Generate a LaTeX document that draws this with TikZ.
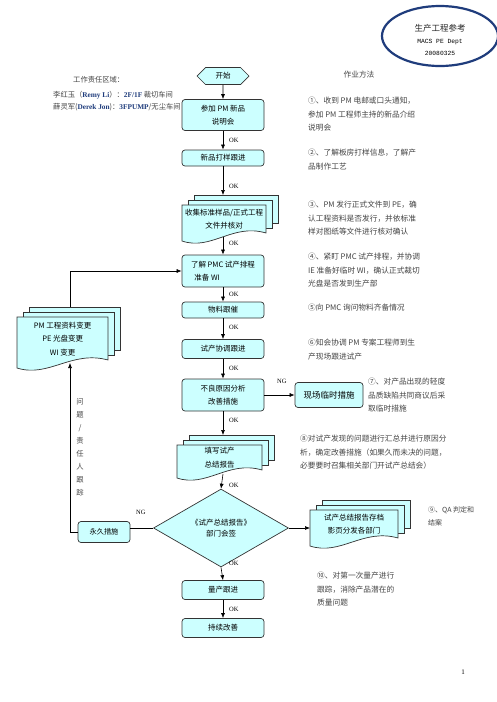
\documentclass[tikz,border=0pt]{standalone}
\usepackage{fontspec}
\setmainfont{Noto Sans CJK SC}
\newfontfamily\lserif{Liberation Serif}
\newfontfamily\lmono{Liberation Mono}
\usetikzlibrary{shapes.geometric,shapes.symbols,arrows.meta,calc}
\definecolor{boxfill}{HTML}{CCFFFF}
\definecolor{boxline}{HTML}{333333}
\definecolor{navy}{HTML}{1F3C7C}
\definecolor{notecol}{HTML}{444444}
\tikzset{
 flowbox/.style={draw=boxline, fill=boxfill, rounded corners=3pt, line width=0.7pt, minimum width=82pt, align=center, font=\fontsize{7.5}{13.5}\selectfont, inner sep=0pt},
 arr/.style={-{Latex[length=5pt,width=4pt]}, line width=0.6pt},
 plain/.style={line width=0.6pt},
 oklab/.style={font=\lserif\fontsize{6.5}{7}\selectfont, anchor=west, inner sep=0pt},
 notebox/.style={font=\fontsize{7.7}{13.5}\selectfont, text=notecol, anchor=north west, align=left, inner sep=0pt},
 pagebox/.style={draw=boxline, fill=boxfill, line width=0.7pt},
 doctext/.style={align=center, font=\fontsize{7.5}{13.5}\selectfont, inner sep=0pt, anchor=north west},
}
% #1 name, #2 left x, #3 top y, #4 width, #5 right-edge height, #6 text
\newcommand\docstack[6]{%
 \draw[pagebox] (#2+12,#3-10) rectangle (#2+#4+12,#3+#5-10);
 \draw[pagebox] (#2+6,#3-5) rectangle (#2+#4+6,#3+#5-5);
 \draw[pagebox] (#2,#3) -- (#2+#4,#3) -- (#2+#4,#3+#5) .. controls (#2+0.6*#4,#3+#5-10) and (#2+0.35*#4,#3+#5+18) .. (#2,#3+#5+8) -- cycle;
 \node[doctext, minimum width=#4 pt, minimum height=#5 pt] (#1) at (#2,#3) {#6};
 \coordinate (#1-top) at (#2+0.5*#4,#3-10);
 \coordinate (#1-bot) at (#2+0.5*#4,#3+#5+4);
}
\begin{document}
\begin{tikzpicture}[x=1pt,y=-1pt]
\useasboundingbox (0,0) rectangle (496,702);
\fill[white] (0,0) rectangle (496,702);

% stamp
\node[draw=navy, line width=2.2pt, ellipse, minimum width=116pt, minimum height=60pt] (stamp) at (440,36) {};
\node[font=\fontsize{8.5}{9}\selectfont, text=black!85, inner sep=0] (stampa) at (440,28) {生产工程参考};
\node[font=\lmono\fontsize{6.3}{7}\selectfont, inner sep=0] (stampb) at (440,42) {MACS PE Dept};
\node[font=\lmono\fontsize{6.3}{7}\selectfont, inner sep=0] (stampc) at (440,53) {20080325};

% responsibility text
\node[font=\fontsize{7.3}{8}\selectfont, text=notecol, anchor=west, inner sep=0] (resp1) at (73,80) {工作责任区域：};
\node[font=\fontsize{7.3}{8}\selectfont, text=notecol, anchor=west, inner sep=0] (resp2) at (53,95) {李红玉（{\lserif\bfseries\color{navy}Remy Li}）：{\lserif\bfseries\color{navy}2F/1F} 裁切车间};
\node[font=\fontsize{7.3}{8}\selectfont, text=notecol, anchor=west, inner sep=0] (resp3) at (53,107) {薛灵军({\lserif\bfseries\color{navy}Derek Jon})：{\lserif\bfseries\color{navy}3FPUMP}/无尘车间};

% main column
\node[signal, signal to=west and east, draw=boxline, fill=boxfill, line width=0.7pt, minimum width=52pt, minimum height=17pt, inner sep=0pt, font=\fontsize{7.5}{8}\selectfont] (start) at (223,76) {开始};
\node[flowbox, minimum height=31pt] (b1) at (223,115) {参加 PM 新品\\说明会};
\node[flowbox, minimum height=16pt] (b2) at (223,158) {新品打样跟进};
\docstack{docA}{182}{205}{84}{28}{收集标准样品/正式工程\\文件并核对}
\node[flowbox, minimum height=32pt, align=left] (b4) at (223,271) {了解 PMC 试产排程\\\ \ 准备 WI};
\node[flowbox, minimum height=16pt] (b5) at (223,310) {物料跟催};
\node[flowbox, minimum height=19pt] (b6) at (223,349) {试产协调跟进};
\node[flowbox, minimum height=32pt] (b7) at (223,395) {不良原因分析\\改善措施};
\node[flowbox, minimum width=68pt, minimum height=25pt, font=\fontsize{8.5}{10}\selectfont] (tmp) at (329,395) {现场临时措施};
\docstack{docB}{177}{445}{85}{25}{填写试产\\总结报告}
\node[diamond, draw=boxline, fill=boxfill, line width=0.7pt, minimum width=135pt, minimum height=65pt, inner sep=0pt, align=center, font=\fontsize{7.5}{11}\selectfont] (dia) at (221,528) {《试产总结报告》\\部门会签};
\docstack{docD}{310}{510}{88}{28}{试产总结报告存档\\影页分发各部门}
\node[flowbox, minimum width=52pt, minimum height=21pt, font=\fontsize{7.2}{8}\selectfont] (perm) at (104,532) {永久措施};
\docstack{docC}{17}{317}{91}{43}{PM 工程资料变更\\PE 光盘变更\\WI 变更}
\node[flowbox, minimum height=19pt] (b8) at (223,590) {量产跟进};
\node[flowbox, minimum height=19pt] (b9) at (223,628) {持续改善};

\coordinate (docCup) at (70,307);
\coordinate (docCdown) at (70,363);

% connectors
\draw[arr] (start) -- (b1);
\draw[arr] (b1) -- (b2);
\draw[arr] (b2.south) -- (b2.south |- docA-top);
\draw[arr] (b2.south |- docA-bot) -- (b4.north);
\draw[arr] (b4) -- (b5);
\draw[arr] (b5) -- (b6);
\draw[arr] (b6) -- (b7);
\draw[arr] (b7.east) -- (tmp.west);
\draw[arr] (b7.south) -- (b7.south |- docB-top);
\draw[arr] (b7.south |- docB-bot) -- (dia.north);
\draw[arr] (dia.east) -- (dia.east -| docD.west);
\draw[plain] (dia.west) -- (dia.west -| perm.east);
\draw[arr] (perm.west) -| (docCdown);
\draw[arr] (docCup) |- (b4.west);
\draw[arr] (dia.south) -- (b8.north);
\draw[arr] (b8) -- (b9);

% OK / NG labels
\node[oklab] (ok1) at (229,140) {OK};
\node[oklab] (ok2) at (229,186) {OK};
\node[oklab] (ok3) at (229,243) {OK};
\node[oklab] (ok4) at (229,294) {OK};
\node[oklab] (ok5) at (229,327) {OK};
\node[oklab] (ok6) at (229,368) {OK};
\node[oklab] (ok7) at (229,420) {OK};
\node[oklab] (ok8) at (229,485) {OK};
\node[oklab] (ok9) at (229,563) {OK};
\node[oklab] (ok10) at (229,609) {OK};
\node[oklab] (ng1) at (277,381) {NG};
\node[oklab] (ng2) at (136,512) {NG};

% vertical text
\node[font=\fontsize{7.3}{13}\selectfont, text=notecol, align=center, inner sep=0] (vtext) at (80,447) {问\\题\\/\\责\\任\\人\\跟\\踪};

% method notes
\node[font=\fontsize{7.7}{8}\selectfont, text=notecol, inner sep=0] (mhead) at (359,75) {作业方法};
\node[notebox] (n1) at (308,97) {①、收到 PM 电邮或口头通知，\\参加 PM 工程师主持的新品介绍\\说明会};
\node[notebox] (n2) at (308,149) {②、了解板房打样信息，了解产\\品制作工艺};
\node[notebox] (n3) at (308,201) {③、PM 发行正式文件到 PE，确\\认工程资料是否发行，并依标准\\样对图纸等文件进行核对确认};
\node[notebox] (n4) at (308,253) {④、紧盯 PMC 试产排程，并协调\\IE 准备好临时 WI，确认正式裁切\\光盘是否发到生产部};
\node[notebox] (n5) at (308,304) {⑤向 PMC 询问物料齐备情况};
\node[notebox] (n6) at (308,339) {⑥知会协调 PM 专案工程师到生\\产现场跟进试产};
\node[notebox] (n7) at (368,378) {⑦、对产品出现的轻度\\品质缺陷共同商议后采\\取临时措施};
\node[notebox] (n8) at (300,435) {⑧对试产发现的问题进行汇总并进行原因分\\析，确定改善措施（如果久而未决的问题，\\必要要时召集相关部门开试产总结会）};
\node[notebox, font=\fontsize{7}{13}\selectfont] (n9) at (428,506) {⑨、QA 判定和\\结案};
\node[notebox] (n10) at (317,572) {⑩、对第一次量产进行\\跟踪，消除产品潜在的\\质量问题};

\node[font=\lserif\fontsize{7}{8}\selectfont, inner sep=0] (pnum) at (463,672) {1};
\end{tikzpicture}
\end{document}
